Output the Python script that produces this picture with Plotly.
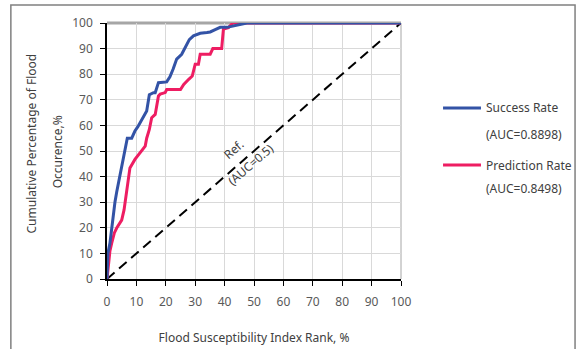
import plotly.graph_objects as go

# ---- data ----
success_x = [0, 0.3, 1.0, 1.6, 2.2, 2.7, 3.3, 4.0, 4.6, 5.6, 6.3, 6.9, 8.4, 9.5, 10.5, 11.3,
             12.4, 13.5, 14.4, 15.8, 16.4, 17.5, 20.3, 21.4, 22.5, 23.7, 25.4, 26.5, 28.0,
             29.4, 31.7, 34.0, 35.1, 36.8, 38.5, 40.8, 43.0, 45.4, 47.6, 100]
success_y = [0, 10, 14, 20.5, 26, 30, 34, 38, 42, 46.7, 51, 55, 55, 57.8, 59.5, 61,
             63.6, 65.6, 72, 72.8, 72.8, 76.7, 77, 79, 82, 85.9, 87.8, 90, 93.5,
             95, 96, 96.3, 96.5, 97.4, 98.3, 98.3, 98.9, 99.6, 100, 100]

pred_x = [0, 0.6, 1.0, 1.6, 2.5, 3.3, 5.0, 5.8, 6.7, 7.8, 9.5, 11.3, 13.0, 13.5, 14.4,
          15.2, 16.4, 17.5, 18.1, 19.8, 20.3, 25.0, 26.1, 27.8, 29.0, 30.0, 31.1, 31.7,
          35.1, 36.0, 39.0, 39.6, 41.3, 42.8, 100]
pred_y = [0, 8.7, 11, 14, 18, 19.9, 23, 27, 34, 43.4, 46.7, 49.3, 51.9, 55, 58.4,
          63, 64.3, 71.5, 72.2, 72.8, 74, 74, 76, 78, 79.3, 83.9, 83.9, 87.8,
          87.8, 90, 90, 97.6, 98.2, 100, 100]

ref_x = [0, 100]
ref_y = [0, 100]

series_names = ["Success Rate", "Prediction Rate"]
series_auc = ["(AUC=0.8898)", "(AUC=0.8498)"]
ref_label_lines = ["Ref.", "(AUC=0.5)"]
tick_vals = list(range(0, 101, 10))
x_title = "Flood Susceptibility Index Rank, %"
y_title_lines = ["Cumulative Percentage of Flood", "Occurence,%"]

BLUE = "#3353A6"
RED = "#EE1D62"
FONT = "Noto Sans"

fig = go.Figure()
fig.add_trace(go.Scatter(x=ref_x, y=ref_y, mode="lines",
                         line=dict(color="black", width=2, dash="10px,6px"), showlegend=False))
fig.add_trace(go.Scatter(x=pred_x, y=pred_y, mode="lines",
                         line=dict(color=RED, width=3), name=series_names[1], showlegend=False))
fig.add_trace(go.Scatter(x=success_x, y=success_y, mode="lines",
                         line=dict(color=BLUE, width=3), name=series_names[0], showlegend=False))

axis_common = dict(range=[0, 100], tickvals=tick_vals, showgrid=True, gridcolor="#D9D9D9",
                   gridwidth=1, zeroline=False, showline=True, linecolor="black", linewidth=1.5,
                   ticks="outside", ticklen=5, tickcolor="black", automargin=False,
                   tickfont=dict(family=FONT, size=12, color="#595959"))
fig.update_xaxes(**axis_common, ticklabelstandoff=6,
                 title=dict(text=x_title, font=dict(family=FONT, size=12, color="#404040"), standoff=24))
fig.update_yaxes(**axis_common, ticklabelstandoff=5)

shapes = [
    # top and right plot border
    dict(type="line", xref="paper", yref="paper", x0=0, x1=1, y0=1, y1=1,
         line=dict(color="#A6A6A6", width=3), layer="below"),
    dict(type="line", xref="paper", yref="paper", x0=1, x1=1, y0=0, y1=1,
         line=dict(color="#A6A6A6", width=1), layer="below"),
    # outer frame
    dict(type="rect", xref="paper", yref="paper", x0=-0.327, x1=1.592, y0=-0.30, y1=1.070,
         line=dict(color="#808080", width=1.5)),
    # legend lines
    dict(type="line", xref="paper", yref="paper", x0=1.143, x1=1.272, y0=0.668, y1=0.668,
         line=dict(color=BLUE, width=3)),
    dict(type="line", xref="paper", yref="paper", x0=1.143, x1=1.272, y0=0.445, y1=0.445,
         line=dict(color=RED, width=3)),
]
fig.update_layout(shapes=shapes)

tf = dict(family=FONT, size=12, color="#404040")
ann = []
leg_y = [(0.668, 0.566), (0.445, 0.355)]
for name, auc, (y1, y2) in zip(series_names, series_auc, leg_y):
    ann.append(dict(text=name, xref="paper", yref="paper", x=1.282, y=y1, xanchor="left",
                    yanchor="middle", showarrow=False, font=tf))
    ann.append(dict(text=auc, xref="paper", yref="paper", x=1.282, y=y2, xanchor="left",
                    yanchor="middle", showarrow=False, font=tf))
# y-axis title (two lines)
ann.append(dict(text=y_title_lines[0], xref="paper", yref="paper", x=-0.258, y=0.53,
                xanchor="center", yanchor="middle", textangle=-90, showarrow=False, font=tf))
ann.append(dict(text=y_title_lines[1], xref="paper", yref="paper", x=-0.170, y=0.495,
                xanchor="center", yanchor="middle", textangle=-90, showarrow=False, font=tf))
# reference label
ann.append(dict(text=ref_label_lines[0], x=43, y=50.6, xref="x", yref="y", showarrow=False,
                textangle=-41, font=tf))
ann.append(dict(text=ref_label_lines[1], x=48.8, y=44.7, xref="x", yref="y", showarrow=False,
                textangle=-41, font=tf))
fig.update_layout(annotations=ann)

fig.update_layout(width=579, height=349, margin=dict(l=107, r=178, t=23, b=70),
                  paper_bgcolor="white", plot_bgcolor="white", showlegend=False)

fig.write_html("out.html", config={"displayModeBar": False},
               post_script="document.body.style.margin='0px';document.body.style.overflow='hidden';")
